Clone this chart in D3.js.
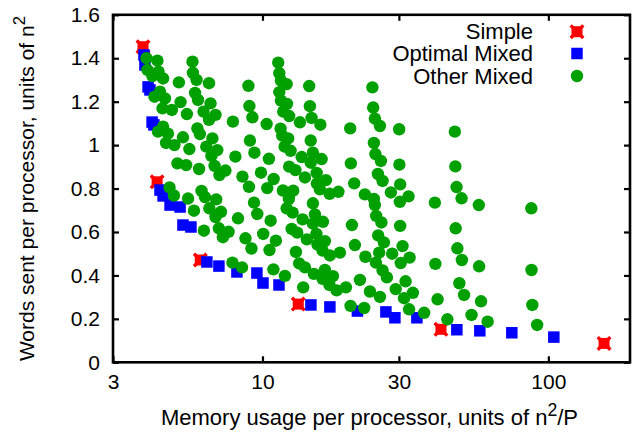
<!DOCTYPE html>
<html><head><meta charset="utf-8">
<script src="https://cdn.jsdelivr.net/npm/d3@7"></script>
<style>
html,body{margin:0;padding:0;background:#fff;}
text{font-family:"Liberation Sans",Arial,Helvetica,sans-serif;fill:#000;}
</style></head>
<body><svg id="chart" width="633" height="438"></svg>
<script>
// ---- data ----
const simpleMem   = [3.82, 4.28, 6.06, 13.34, 42.1, 156.6];
const simpleWords = [1.453, 0.831, 0.471, 0.268, 0.152, 0.087];

const optimalMem   = [3.85,3.88,3.98,4.04,4.11,4.17,4.38,4.49,4.75,5.15,5.27,5.62,6.39,7.04,8.14,9.56,10.04,11.42,14.77,17.21,21.48,27.02,29.05,34.68,47.85,57.58,74.5,104.5];
const optimalWords = [1.415,1.369,1.268,1.254,1.106,1.093,0.793,0.766,0.724,0.715,0.632,0.623,0.462,0.443,0.416,0.411,0.365,0.356,0.264,0.255,0.236,0.232,0.205,0.205,0.150,0.145,0.136,0.116];

const otherMem = [
3.93,4.29,5.69,3.96,4.33,4.12,4.49,5.10,5.71,5.88,6.50,8.93,4.38,4.19,4.56,5.81,5.95,5.17,4.47,4.82,5.44,6.58,6.22,6.85,6.50,9.00,9.22,7.88,4.49,4.31,4.67,5.92,6.04,5.27,6.68,4.60,4.92,5.55,6.36,6.95,6.63,9.04,8.04,9.37,5.04,5.41,6.00,6.80,7.42,7.07,8.51,8.97,4.73,4.90,5.49,6.12,6.29,6.89,
5.76,6.52,7.16,6.85,8.21,9.34,6.24,7.04,7.61,7.27,8.72,9.15,7.85,8.48,
10.34,11.35,11.45,11.60,12.15,14.57,24.24,11.45,11.60,12.18,11.82,12.40,14.65,14.85,15.94,13.52,20.27,24.39,24.73,25.75,30.07,11.57,11.72,12.30,11.95,12.54,14.75,15.01,16.10,13.71,14.75,10.53,20.38,24.53,24.83,25.95,25.33,26.31,30.12,12.40,13.04,14.08,15.47,15.50,16.67,15.88,17.17,18.43,9.88,10.94,10.39,11.79,12.81,12.37,20.93,22.81,24.53,28.13,30.31,32.43,15.01,12.15,12.75,13.82,15.26,15.01,16.27,24.73,
9.59,10.68,10.06,11.14,10.58,12.65,13.23,14.30,15.44,16.53,15.57,16.23,17.21,18.66,13.09,13.44,14.08,15.13,16.53,17.64,16.23,17.14,18.17,19.58,20.55,21.05,22.91,24.93,25.60,26.59,25.39,24.99,26.06,26.31,27.24,21.92,23.76,25.75,10.92,11.98,13.88,20.33,22.69,
47.09,47.28,47.74,49.70,57.12,40.09,30.31,47.40,30.91,28.42,32.70,30.44,48.05,49.82,57.26,40.25,31.66,29.24,33.58,31.28,32.57,36.77,40.97,48.82,50.71,58.14,53.86,61.32,44.33,30.24,
87.18,87.32,87.88,91.34];
const otherWords = [
1.400,1.389,1.384,1.346,1.338,1.318,1.307,1.289,1.333,1.300,1.285,1.273,1.246,1.223,1.215,1.240,1.208,1.198,1.169,1.162,1.143,1.192,1.154,1.139,1.116,1.180,1.128,1.108,1.085,1.062,1.053,1.077,1.051,1.036,1.031,1.010,1.000,0.982,0.993,0.977,0.950,1.021,0.947,0.965,0.916,0.908,0.890,0.904,0.883,0.862,0.855,0.808,0.805,0.768,0.754,0.789,0.761,0.750,
0.698,0.709,0.693,0.669,0.663,0.735,0.606,0.617,0.601,0.576,0.571,0.524,0.459,0.437,
1.097,1.380,1.331,1.297,1.281,1.272,1.266,1.244,1.205,1.190,1.154,1.134,1.179,1.125,1.094,1.105,1.077,1.173,1.122,1.088,1.073,1.076,1.044,1.031,0.993,0.974,1.021,0.965,0.936,0.945,0.919,0.937,0.916,1.010,0.959,0.927,0.867,0.835,0.910,0.901,0.885,0.851,0.872,0.823,0.839,0.796,0.776,0.785,0.873,0.844,0.802,0.791,0.790,0.752,0.824,0.773,0.752,0.782,0.819,0.764,0.732,0.709,0.689,0.658,0.681,0.638,0.647,0.724,
0.683,0.652,0.591,0.560,0.517,0.614,0.597,0.566,0.591,0.558,0.542,0.514,0.492,0.505,0.508,0.455,0.437,0.407,0.425,0.397,0.384,0.356,0.331,0.345,0.632,0.540,0.486,0.459,0.505,0.552,0.584,0.674,0.644,0.423,0.391,0.379,0.326,0.301,0.428,0.398,0.345,0.260,0.250,
1.062,0.902,0.807,0.755,0.724,0.735,0.628,0.617,0.535,0.500,0.482,0.457,0.525,0.471,0.442,0.453,0.373,0.337,0.320,0.295,0.244,0.228,0.290,0.364,0.310,0.281,0.218,0.187,0.198,0.739,
0.709,0.425,0.264,0.172];

const xTicks = [3, 10, 30, 100];
const yTicks = [0, 0.2, 0.4, 0.6, 0.8, 1.0, 1.2, 1.4, 1.6];
const seriesNames = ["Simple", "Optimal Mixed", "Other Mixed"];
const xDomain = [3, 193];
const yDomain = [0, 1.6];

// ---- layout ----
const W = 633, H = 438;
const m = {left: 113, right: 3, top: 14.8, bottom: 75.7};
const svg = d3.select("#chart");
const x = d3.scaleLog().domain(xDomain).range([m.left, W - m.right]);
const y = d3.scaleLinear().domain(yDomain).range([H - m.bottom, m.top]);
const FS = 21, FL = 22;
const RED = "#ff0000", BLUE = "#0000ff", GREEN = "#00a000";

// axes
const fmtY = d => String(+d.toFixed(1));
const gB = svg.append("g").attr("transform", `translate(0,${y(0)})`)
  .call(d3.axisBottom(x).tickValues(xTicks).tickFormat(d3.format("d")).tickSize(-6).tickPadding(12));
const gT = svg.append("g").attr("transform", `translate(0,${y(1.6)})`)
  .call(d3.axisTop(x).tickValues(xTicks).tickFormat("").tickSize(-6));
const gL = svg.append("g").attr("transform", `translate(${x(xDomain[0])},0)`)
  .call(d3.axisLeft(y).tickValues(yTicks).tickFormat(fmtY).tickSize(-6).tickPadding(13));
const gR = svg.append("g").attr("transform", `translate(${x(xDomain[1])},0)`)
  .call(d3.axisRight(y).tickValues(yTicks).tickFormat("").tickSize(-6));
[gB, gT, gL, gR].forEach(g => {
  g.select(".domain").remove();
  g.selectAll(".tick line").attr("stroke", "#000").attr("stroke-width", 2.2);
  g.selectAll(".tick text").attr("font-size", FS).attr("font-family", '"Liberation Sans",Arial,sans-serif').attr("fill", "#000");
});

// frame
svg.append("rect")
  .attr("x", x(xDomain[0])).attr("y", y(1.6))
  .attr("width", x(xDomain[1]) - x(xDomain[0])).attr("height", y(0) - y(1.6))
  .attr("fill", "none").attr("stroke", "#000").attr("stroke-width", 2.6);

// markers
function crossMark(g, cx, cy) {
  g.append("rect").attr("x", cx - 5.5).attr("y", cy - 5.5).attr("width", 11).attr("height", 11).attr("fill", RED);
  g.append("path").attr("d", `M${cx-6.3},${cy-6.3}L${cx+6.3},${cy+6.3}M${cx-6.3},${cy+6.3}L${cx+6.3},${cy-6.3}`)
    .attr("stroke", RED).attr("stroke-width", 3.4).attr("fill", "none");
}
const SQ = 11.5, R = 6.2;
const gPts = svg.append("g");
const gS = gPts.append("g");
simpleMem.forEach((v, i) => crossMark(gS, x(v), y(simpleWords[i])));
gPts.append("g").selectAll("rect").data(optimalMem).join("rect")
  .attr("x", (d, i) => x(d) - SQ / 2).attr("y", (d, i) => y(optimalWords[i]) - SQ / 2)
  .attr("width", SQ).attr("height", SQ).attr("fill", BLUE);
gPts.append("g").selectAll("circle").data(otherMem).join("circle")
  .attr("cx", d => x(d)).attr("cy", (d, i) => y(otherWords[i])).attr("r", R).attr("fill", GREEN);

// legend
const lg = svg.append("g");
const legY = [38.5, 61.2, 83.8];
seriesNames.forEach((s, i) => {
  lg.append("text").attr("x", 533).attr("y", legY[i]).attr("text-anchor", "end")
    .attr("font-size", FL).text(s);
});
crossMark(lg, 577, 31.7);
lg.append("rect").attr("x", 577 - SQ / 2).attr("y", 53.5 - SQ / 2).attr("width", SQ).attr("height", SQ).attr("fill", BLUE);
lg.append("circle").attr("cx", 577).attr("cy", 76).attr("r", R).attr("fill", GREEN);

// axis titles
const xt = svg.append("text").attr("x", (x(xDomain[0]) + x(xDomain[1])) / 2 - 2).attr("y", 425)
  .attr("text-anchor", "middle").attr("font-size", FL);
xt.append("tspan").text("Memory usage per processor, units of n");
xt.append("tspan").attr("dy", -9).attr("font-size", FL * 0.8).text("2");
xt.append("tspan").attr("dy", 9).text("/P");

const yt = svg.append("text").attr("transform", `translate(34,${(y(0) + y(1.6)) / 2}) rotate(-90)`)
  .attr("text-anchor", "middle").attr("font-size", FS);
yt.append("tspan").text("Words sent per processor, units of n");
yt.append("tspan").attr("dy", -9).attr("font-size", FS * 0.8).text("2");
</script></body></html>
